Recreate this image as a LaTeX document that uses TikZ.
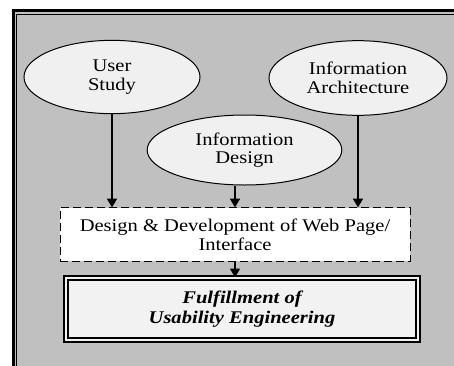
\documentclass[tikz,border=0pt]{standalone}
\usepackage{fontspec}
\setmainfont{Liberation Serif}[FakeStretch=1.15]
\usetikzlibrary{shapes.geometric,arrows.meta}

\definecolor{panelgray}{RGB}{192,192,192}
\definecolor{bubblefill}{RGB}{240,240,240}
\definecolor{resultfill}{RGB}{242,242,242}

\tikzset{every picture/.style={line width=0.75pt}}
\tikzset{
  bubble/.style={ellipse, draw, fill=bubblefill, align=center, inner sep=0pt,
    font=\fontsize{13.4}{14}\selectfont},
  devbox/.style={rectangle, draw, dash pattern={on 6pt off 3pt}, fill=white,
    align=center, font=\fontsize{13.4}{14}\selectfont},
  resultbox/.style={rectangle, draw, double=resultfill, double distance=2pt, line width=1.1pt,
    fill=resultfill, align=center, font=\fontsize{13.4}{15}\selectfont\bfseries\itshape},
  flow/.style={line width=0.9pt, -{Triangle[width=7.5pt,length=6.5pt]}}
}

\begin{document}
\begin{tikzpicture}[x=0.75pt,y=0.75pt,yscale=-1,xscale=1]
\useasboundingbox (0,0) rectangle (454,365);
\clip (0,0) rectangle (454,365);

%Panel with thick-thin frame
\fill[panelgray] (12,9) rectangle (480,390);
\draw[line width=2.25pt] (13.5,390) -- (13.5,10.5) -- (480,10.5);
\draw[line width=0.75pt] (16.5,390) -- (16.5,14) -- (480,14);

%Sources
\node[bubble, minimum width=132pt, minimum height=55pt] (us) at (112,77) {User\\Study};
\node[bubble, minimum width=133.5pt, minimum height=56pt] (ia) at (358,78) {Information\\Architecture};
\node[bubble, minimum width=146pt, minimum height=52.5pt] (id) at (244.5,150) {Information\\Design};

%Design stage
\node[devbox, minimum width=262.5pt, minimum height=40pt] (dev) at (235,234.5)
  {Design \& Development of Web Page/\\Interface};

%Result
\node[resultbox, minimum width=264pt, minimum height=46.5pt] (ful) at (242,309)
  {Fulfillment of\\Usability Engineering};

%Arrows
\draw[flow] (us.south) -- (us.south |- dev.north);
\draw[flow] (id.south -| dev.north) -- (dev.north);
\draw[flow] (ia.south) -- (ia.south |- dev.north);
\draw[flow] (dev.south) -- (dev.south |- ful.north);

\end{tikzpicture}
\end{document}
